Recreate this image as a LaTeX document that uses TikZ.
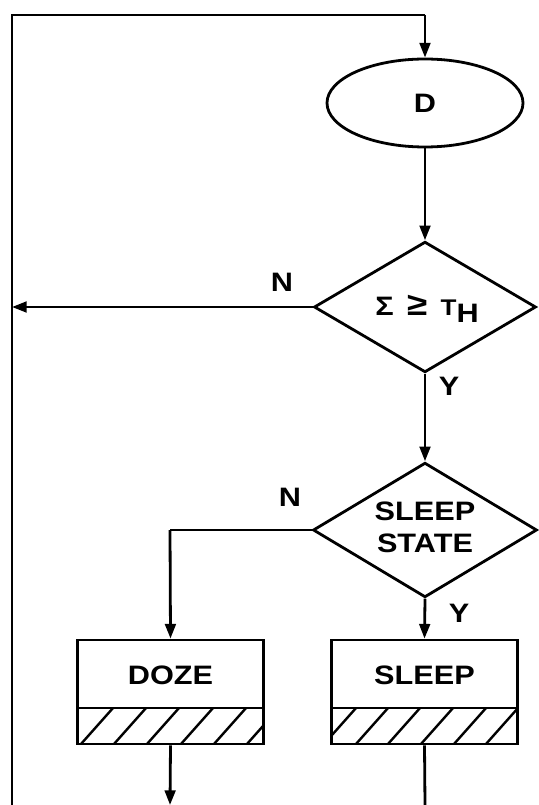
\documentclass[tikz,border=0pt]{standalone}
\usepackage{fontspec}
\setmainfont[FakeStretch=1.15]{Liberation Sans}
\usetikzlibrary{shapes.geometric,arrows.meta}
\tikzset{
  ln/.style={line width=2.1pt},
  arr/.style={ln,-{Triangle[length=11pt,width=8pt]}},
  shp/.style={draw,ln,inner sep=0pt},
  lbl/.style={font=\fontsize{20}{24}\selectfont\bfseries,inner sep=0pt,align=center},
  hatch/.style={line width=1.8pt},
}
\begin{document}
\begin{tikzpicture}[x=0.75pt,y=-0.75pt]
\useasboundingbox (0,0) rectangle (538,805);
% nodes
\node[shp,ellipse,minimum width=147pt,minimum height=66pt] (D) at (425,103) {};
\node[lbl] (Dt) at (425,103) {D};
\node[shp,diamond,minimum width=166.5pt,minimum height=98pt] (d1) at (425,307) {};
\node[lbl] (d1t) at (427,309) {Σ\hspace{0.5em}{\fontsize{24}{24}\selectfont ≥}\hspace{0.5em}{\fontsize{17}{20}\selectfont T}\raisebox{-0.5ex}{H}};
\node[shp,diamond,minimum width=168pt,minimum height=101pt] (d2) at (425,530) {};
\node[lbl] (d2t) at (425,527) {SLEEP\\STATE};
\node[shp,rectangle,minimum width=140pt,minimum height=78pt] (doze) at (170.5,692) {};
\node[lbl] (dozet) at (170.5,675) {DOZE};
\node[shp,rectangle,minimum width=140pt,minimum height=78pt] (sleep) at (424.5,692) {};
\node[lbl] (sleept) at (424.5,675) {SLEEP};
% labels
\node[lbl] (n1) at (282,282) {N};
\node[lbl] (y1) at (449,386) {Y};
\node[lbl] (n2) at (290,497) {N};
\node[lbl] (y2) at (459,613) {Y};
% coordinates
\coordinate (tl) at (12,15);
\coordinate (tr) at (425,15);
\coordinate (bl) at (12,805);
\coordinate (j1) at (12,307);
\coordinate (j2) at (170,530);
\coordinate (e1) at (170,805);
\coordinate (e2) at (425,805);
% connectors
\draw[ln] (bl) -- (tl) -- (tr);
\draw[arr] (tr) -- (D.north);
\draw[arr] (D.south) -- (d1.north);
\draw[arr] (d1.west) -- (j1);
\draw[arr] (d1.south) -- (d2.north);
\draw[ln] (d2.west) -- (j2);
\draw[arr] (j2) -- (doze.north);
\draw[arr] (d2.south) -- (sleep.north);
\draw[arr] (doze.south) -- (e1);
\draw[ln] (sleep.south) -- (e2);
% dividers and hatching
\draw[ln] (77,708) -- (264,708);
\draw[ln] (331,708) -- (518,708);
\begin{scope}
\clip (77,708) rectangle (264,744);
\foreach \m in {97,130,163,197,230,263} \draw[hatch] (\m-16,744) -- (\m+16,708);
\end{scope}
\begin{scope}
\clip (331,708) rectangle (518,744);
\foreach \m in {340,372,404,437,470,502} \draw[hatch] (\m-16,744) -- (\m+16,708);
\end{scope}
\end{tikzpicture}
\end{document}
